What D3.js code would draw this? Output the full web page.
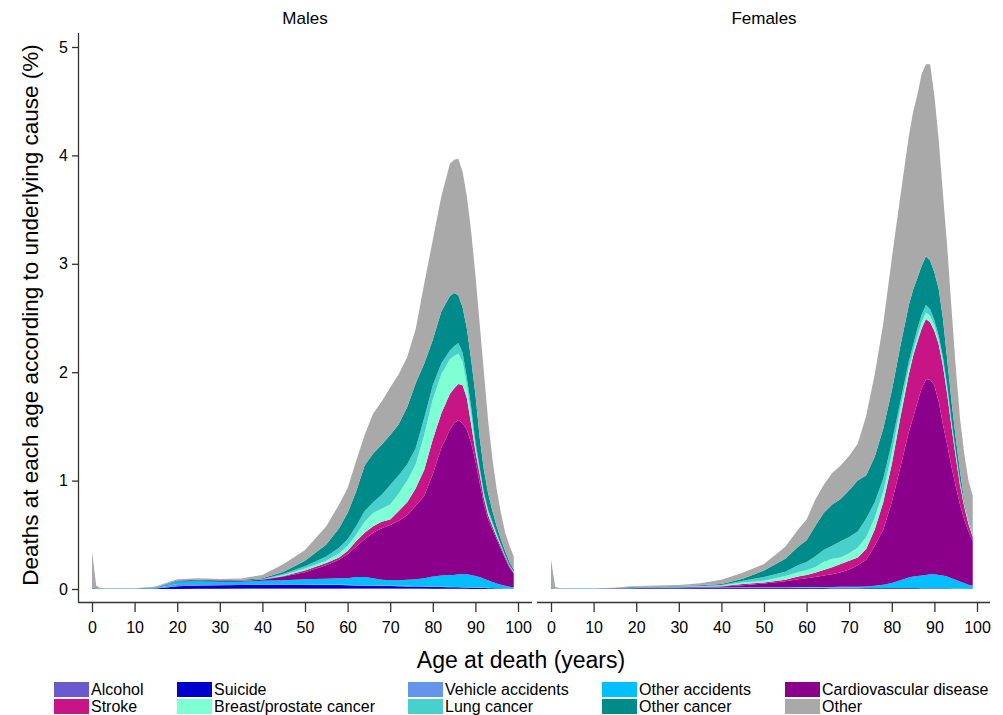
<!DOCTYPE html>
<html>
<head>
<meta charset="utf-8">
<script src="https://cdn.jsdelivr.net/npm/d3@7"></script>
<style>
  body { margin: 0; background: #fff; }
  text { font-family: "Liberation Sans", Arial, sans-serif; fill: #000; }
</style>
</head>
<body>
<div id="chart"></div>
<script>
var ages = [0, 1, 2, 5, 10, 15, 18, 20, 25, 30, 35, 40, 45, 50, 55, 58, 60, 62, 64, 66, 68, 70,
  72, 74, 76, 78, 80, 82, 84, 85, 86, 87, 88, 89, 90, 91, 92, 93, 94, 95, 96, 97, 98, 99];

var causes = ["Alcohol", "Suicide", "Vehicle accidents", "Other accidents", "Cardiovascular disease",
  "Stroke", "Breast/prostate cancer", "Lung cancer", "Other cancer", "Other"];
var causeColors = ["#6a5acd", "#0000cd", "#6495ed", "#00bfff", "#8b008b",
  "#c71585", "#7fffd4", "#48d1cc", "#008b8b", "#a9a9a9"];

var xTicks = [0, 10, 20, 30, 40, 50, 60, 70, 80, 90, 100];
var yTicks = [0, 1, 2, 3, 4, 5];

// males, % of deaths at each age
var maleAlcohol = [0,0,0,0,0,0,0,.001,.002,.003,.005,.007,.008,.009,.009,.009,.008,.008,.007,.007,.006,.006,
  .005,.005,.004,.004,.003,.003,.002,.002,.002,.002,.002,.001,.001,.001,.001,.001,0,0,0,0,0,0];
var maleSuicide = [0,0,0,0,0,.004,.015,.025,.03,.032,.033,.033,.032,.03,.028,.027,.026,.025,.024,.023,.022,.021,
  .02,.019,.018,.017,.016,.015,.014,.013,.013,.012,.012,.011,.01,.009,.008,.007,.006,.005,.004,.003,.003,.002];
var maleVehicle = [.001,.001,.001,.001,.001,.004,.015,.02,.015,.01,.008,.007,.006,.006,.005,.005,.005,.005,.005,.005,.005,.005,
  .005,.005,.005,.005,.005,.005,.004,.004,.004,.004,.004,.004,.003,.003,.003,.003,.002,.002,.002,.001,.001,.001];
var maleOtherAccidents = [.004,.002,.002,.002,.002,.004,.015,.022,.025,.023,.022,.028,.034,.045,.053,.059,.061,.072,.074,.065,.052,.048,
  .05,.056,.063,.074,.091,.102,.11,.111,.116,.117,.117,.114,.106,.097,.083,.069,.057,.043,.034,.026,.016,.012];
var maleCardio = [.003,.001,0,0,0,.001,.003,.004,.004,.005,.007,.01,.035,.065,.125,.17,.22,.28,.35,.42,.475,.51,
  .55,.595,.68,.76,.945,1.175,1.34,1.40,1.425,1.395,1.335,1.22,1.06,.87,.685,.56,.485,.41,.33,.25,.18,.125];
var maleStroke = [0,0,0,0,0,0,0,0,.001,.001,.001,.002,.005,.015,.02,.02,.03,.05,.06,.06,.06,.05,
  .09,.12,.16,.24,.32,.32,.33,.32,.33,.35,.29,.17,.09,.08,.06,.04,.03,.02,.02,.015,.01,.01];
var maleBreastProstate = [0,0,0,0,0,0,0,0,0,0,.001,.001,.01,.02,.02,.04,.05,.06,.10,.12,.12,.14,
  .16,.20,.22,.32,.37,.36,.32,.30,.28,.22,.12,.10,.05,.03,.03,.03,.02,.02,.01,.005,.005,.005];
var maleLung = [0,0,0,0,0,0,0,0,0,0,.001,.002,.01,.02,.04,.05,.06,.08,.10,.10,.13,.18,
  .17,.15,.15,.16,.13,.10,.08,.09,.10,.08,.07,.06,.04,.03,.02,.02,.02,.01,.01,.01,.005,.005];
var maleOtherCancer = [.004,.002,.002,.002,.002,.003,.005,.006,.008,.006,.007,.01,.02,.05,.11,.18,.24,.32,.42,.45,.46,.46,
  .47,.53,.60,.50,.42,.48,.50,.49,.44,.42,.45,.44,.44,.28,.21,.15,.10,.07,.05,.04,.03,.02];
var maleOther = [.338,.024,.005,.002,.002,.006,.012,.012,.015,.012,.013,.03,.07,.10,.17,.22,.23,.28,.28,.37,.40,.44,
  .46,.46,.50,.74,.92,1.06,1.22,1.23,1.26,1.25,1.22,1.18,1.10,1.05,.90,.67,.48,.34,.24,.17,.15,.12];

// females
var femaleAlcohol = [0,0,0,0,0,0,0,0,.001,.001,.002,.002,.003,.003,.003,.003,.003,.003,.002,.002,.002,.002,
  .002,.001,.001,.001,.001,.001,.001,.001,.001,0,0,0,0,0,0,0,0,0,0,0,0,0];
var femaleSuicide = [0,0,0,0,0,.002,.005,.006,.006,.006,.007,.008,.008,.008,.008,.008,.007,.007,.007,.006,.006,.006,
  .006,.006,.006,.006,.006,.006,.005,.005,.005,.005,.005,.005,.005,.004,.004,.004,.003,.003,.003,.002,.002,.002];
var femaleVehicle = [.001,.001,.001,.001,.001,.002,.003,.004,.003,.003,.003,.003,.003,.003,.003,.003,.003,.003,.003,.003,.003,.003,
  .003,.003,.003,.003,.003,.003,.003,.003,.003,.003,.003,.002,.002,.002,.002,.002,.002,.002,.001,.001,.001,.001];
var femaleOtherAccidents = [.002,.001,.001,.001,.001,.001,.002,.002,.002,.002,.001,.001,.001,.002,.003,.004,.005,.005,.006,.007,.009,.009,
  .009,.012,.02,.03,.045,.07,.096,.106,.111,.117,.122,.128,.128,.124,.119,.109,.095,.08,.066,.052,.037,.027];
var femaleCardio = [.003,.001,0,0,0,.001,.001,.001,.002,.004,.005,.008,.02,.034,.055,.072,.082,.092,.107,.117,.135,.16,
  .20,.248,.37,.51,.745,1.04,1.345,1.465,1.60,1.725,1.80,1.795,1.745,1.60,1.395,1.215,1.03,.865,.71,.585,.49,.41];
var femaleStroke = [0,0,0,0,0,0,0,.001,.001,.001,.002,.004,.01,.01,.013,.025,.03,.04,.05,.065,.075,.08,
  .07,.10,.15,.25,.35,.46,.53,.57,.56,.55,.56,.53,.50,.53,.54,.47,.37,.27,.18,.12,.07,.04];
var femaleBreastProstate = [0,0,0,0,0,0,.001,.001,.002,.003,.004,.006,.015,.015,.035,.04,.045,.05,.075,.08,.06,.07,
  .09,.11,.11,.10,.10,.08,.06,.04,.05,.06,.06,.06,.05,.04,.04,.04,.03,.03,.02,.02,.02,.01];
var femaleLung = [0,0,0,0,0,0,0,.001,.001,.002,.004,.006,.015,.035,.04,.065,.075,.10,.11,.12,.15,.15,
  .15,.17,.14,.12,.10,.07,.06,.06,.07,.07,.07,.06,.05,.04,.04,.04,.03,.02,.02,.01,.01,.01];
var femaleOtherCancer = [.004,.002,.002,.002,.002,.003,.004,.004,.005,.005,.007,.009,.02,.06,.12,.17,.20,.28,.34,.38,.39,.43,
  .47,.40,.42,.46,.48,.51,.52,.51,.47,.45,.45,.45,.44,.43,.36,.24,.18,.13,.09,.03,.01,.01];
var femaleOther = [.26,.015,.004,.002,.002,.003,.006,.008,.01,.011,.017,.038,.055,.06,.11,.16,.19,.24,.26,.29,.31,.32,
  .34,.55,.76,.97,1.22,1.38,1.56,1.64,1.69,1.77,1.77,1.81,1.63,1.38,1.15,1.04,.86,.65,.49,.43,.36,.35];

var width = 1003, height = 715;

var svg = d3.select('#chart')
  .append('svg')
  .attr('width', width)
  .attr('height', height);

var y = d3.scaleLinear().domain([0, 5]).range([589, 47]);
var axisY = 602;

var panels = [
  {
    title: 'Males',
    series: [maleAlcohol, maleSuicide, maleVehicle, maleOtherAccidents, maleCardio,
      maleStroke, maleBreastProstate, maleLung, maleOtherCancer, maleOther],
    x: d3.scaleLinear().domain([0, 100]).range([92, 518]),
    left: 78, right: 532
  },
  {
    title: 'Females',
    series: [femaleAlcohol, femaleSuicide, femaleVehicle, femaleOtherAccidents, femaleCardio,
      femaleStroke, femaleBreastProstate, femaleLung, femaleOtherCancer, femaleOther],
    x: d3.scaleLinear().domain([0, 100]).range([551, 977]),
    left: 537, right: 990
  }
];

panels.forEach(function(p) {
  // one row per age, one column per cause
  var rows = ages.map(function(a, i) {
    var r = {age: a};
    causes.forEach(function(c, k) { r[c] = p.series[k][i]; });
    return r;
  });
  var layers = d3.stack().keys(causes)(rows);

  var area = d3.area()
    .x(function(d) { return p.x(d.data.age); })
    .y0(function(d) { return y(d[0]); })
    .y1(function(d) { return y(d[1]); });

  svg.append('g')
    .selectAll('path')
    .data(layers)
    .enter().append('path')
      .attr('d', area)
      .attr('fill', function(d, i) { return causeColors[i]; });

  // x axis
  var gx = svg.append('g')
    .attr('transform', 'translate(0,' + axisY + ')')
    .call(d3.axisBottom(p.x).tickValues(xTicks).tickSize(10).tickPadding(10));
  gx.select('.domain').remove();
  gx.append('line')
    .attr('x1', p.left).attr('x2', p.right)
    .attr('y1', 0.5).attr('y2', 0.5)
    .attr('stroke', '#333').attr('stroke-width', 1.3);
  gx.selectAll('.tick line').attr('stroke', '#333').attr('stroke-width', 1.3);
  gx.selectAll('.tick text').style('font-size', '16px').attr('font-family', null);

  // panel title
  svg.append('text')
    .attr('x', (p.x(0) + p.x(100)) / 2)
    .attr('y', 24)
    .attr('text-anchor', 'middle')
    .style('font-size', '17px')
    .text(p.title);
});

// y axis on the left panel only
var gy = svg.append('g')
  .attr('transform', 'translate(78,0)')
  .call(d3.axisLeft(y).tickValues(yTicks).tickFormat(d3.format('d')).tickSize(6).tickPadding(4));
gy.select('.domain').remove();
gy.append('line')
  .attr('x1', 0.5).attr('x2', 0.5)
  .attr('y1', 33).attr('y2', axisY)
  .attr('stroke', '#333').attr('stroke-width', 1.3);
gy.selectAll('.tick line').attr('stroke', '#333').attr('stroke-width', 1.3);
gy.selectAll('.tick text').style('font-size', '16px').attr('font-family', null);

// axis titles
svg.append('text')
  .attr('x', 521)
  .attr('y', 668)
  .attr('text-anchor', 'middle')
  .style('font-size', '23px')
  .text('Age at death (years)');

svg.append('text')
  .attr('transform', 'translate(38,315) rotate(-90)')
  .attr('text-anchor', 'middle')
  .style('font-size', '22.5px')
  .text('Deaths at each age according to underlying cause (%)');

// legend: 2 rows x 5 columns
var legendX = [54, 177, 408, 602, 785];
var legendY = [682, 699];
var legend = svg.append('g')
  .selectAll('g')
  .data(causes)
  .enter().append('g')
    .attr('transform', function(d, i) {
      return 'translate(' + legendX[i % 5] + ',' + legendY[Math.floor(i / 5)] + ')';
    });
legend.append('rect')
  .attr('width', 35).attr('height', 15)
  .attr('fill', function(d, i) { return causeColors[i]; });
legend.append('text')
  .attr('x', 37).attr('y', 13)
  .style('font-size', '16px')
  .text(function(d) { return d; });
</script>
</body>
</html>
